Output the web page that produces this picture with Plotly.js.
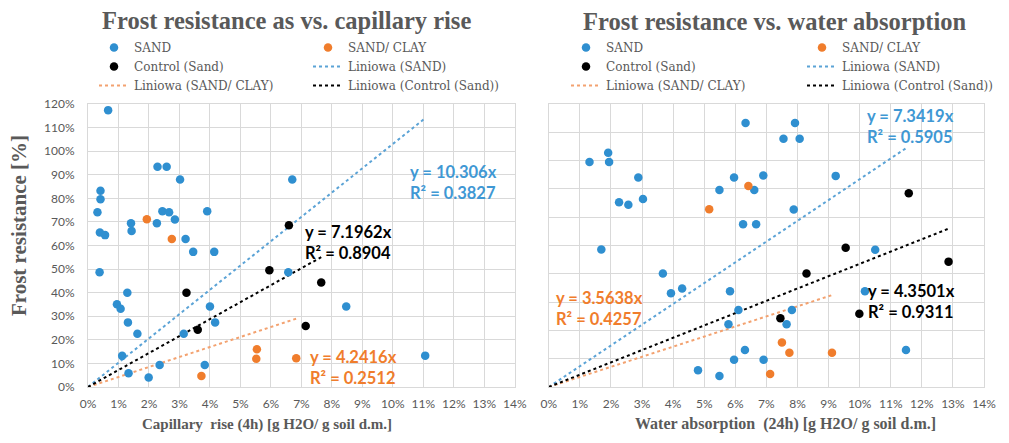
<!DOCTYPE html>
<html>
<head>
<meta charset="utf-8">
<script src="https://cdn.plot.ly/plotly-3.0.1.min.js"></script>
<style>html,body{margin:0;padding:0;background:#fff;}#chart{width:1009px;height:443px;}</style>
</head>
<body>
<div id="chart"></div>
<script>
// ---- Data (percent units) ----
var capSandX = [0.66,0.41,0.41,0.31,0.39,0.56,0.38,2.28,2.58,3.02,2.44,2.66,2.85,2.26,1.41,1.43,3.91,3.20,3.45,4.14,1.29,0.95,1.07,1.31,1.62,4.00,4.17,3.14,1.12,1.33,1.99,2.35,3.83,6.57,6.70,8.47,11.06];
var capSandY = [117.4,83.2,79.6,74.1,65.5,64.4,48.7,93.4,93.4,88.0,74.5,74.1,71.0,69.4,69.4,66.2,74.5,62.8,57.3,57.3,40.0,35.1,33.2,27.4,22.6,34.1,27.4,22.6,13.2,5.8,4.0,9.3,9.3,48.7,88.0,34.1,13.3];
var capClayX = [1.93,2.75,3.72,5.54,5.52,6.83];
var capClayY = [71.1,62.8,4.7,16.0,12.0,12.2];
var capCtrlX = [3.23,3.60,5.95,6.59,7.65,7.14];
var capCtrlY = [40.0,24.3,49.5,68.6,44.3,25.9];

var absSandX = [1.31,1.91,1.94,2.88,2.26,2.56,3.03,1.69,3.67,3.93,4.29,5.49,5.96,6.33,6.61,6.90,6.25,6.67,5.83,6.10,5.78,6.31,5.96,6.91,4.80,5.49,7.92,7.55,8.07,9.23,7.88,10.50,10.17,7.82,7.65,11.49];
var absSandY = [79.5,82.8,79.5,74.0,65.3,64.4,66.4,48.6,40.1,33.1,34.8,69.6,74.0,93.3,69.6,74.7,57.5,57.5,33.8,27.2,22.2,13.1,9.6,9.6,5.9,3.9,93.3,87.7,87.7,74.6,62.7,48.5,33.8,27.2,22.2,13.1];
var absClayX = [5.16,6.42,7.12,7.50,7.74,9.11];
var absClayY = [62.8,71.0,4.6,15.7,12.1,12.1];
var absCtrlX = [7.45,8.29,9.55,11.58,12.86,9.99];
var absCtrlY = [24.3,40.1,49.2,68.5,44.3,25.9];

// trendline slopes (through origin) and R²
var capSlopeSand = 10.306, capSlopeClay = 4.2416, capSlopeCtrl = 7.1962;
var absSlopeSand = 7.3419, absSlopeClay = 3.5638, absSlopeCtrl = 4.3501;
var capR2Sand = 0.3827, capR2Clay = 0.2512, capR2Ctrl = 0.8904;
var absR2Sand = 0.5905, absR2Clay = 0.4257, absR2Ctrl = 0.9311;

// tick values and labels
var xTickVals = [0,1,2,3,4,5,6,7,8,9,10,11,12,13,14];
var xTickText = ['0%','1%','2%','3%','4%','5%','6%','7%','8%','9%','10%','11%','12%','13%','14%'];
var yTickVals = [0,10,20,30,40,50,60,70,80,90,100,110,120];
var yTickText = ['0%','10%','20%','30%','40%','50%','60%','70%','80%','90%','100%','110%','120%'];

// ---- Styles ----
var BLUE = '#2f8fd0', ORANGE = '#f07d2c', BLACK = '#000000';
var BLUE_L = '#5ba3d6', ORANGE_L = '#f3a270';
var GRAY = '#595959';
var MS = 8.5;

function trend(xs, slope) {
  var m = Math.max.apply(null, xs);
  return {x: [0, m], y: [0, slope * m]};
}
function pts(xs, ys, name, color, xa, ya, leg) {
  return {type:'scatter', mode:'markers', x:xs, y:ys, name:name, xaxis:xa, yaxis:ya, legend:leg,
    marker:{color:color, size:MS}, hoverinfo:'x+y'};
}
function line(xs, slope, name, color, xa, ya, leg) {
  var t = trend(xs, slope);
  return {type:'scatter', mode:'lines', x:t.x, y:t.y, name:name, xaxis:xa, yaxis:ya, legend:leg,
    line:{color:color, width:2, dash:'dot'}, hoverinfo:'skip'};
}

var data = [
  line(capSandX, capSlopeSand, 'Liniowa (SAND)', BLUE_L, 'x', 'y', 'legend2'),
  line(capClayX, capSlopeClay, 'Liniowa (SAND/ CLAY)', ORANGE_L, 'x', 'y', 'legend'),
  line(capCtrlX, capSlopeCtrl, 'Liniowa (Control (Sand))', BLACK, 'x', 'y', 'legend2'),
  pts(capSandX, capSandY, 'SAND', BLUE, 'x', 'y', 'legend'),
  pts(capClayX, capClayY, 'SAND/ CLAY', ORANGE, 'x', 'y', 'legend2'),
  pts(capCtrlX, capCtrlY, 'Control (Sand)', BLACK, 'x', 'y', 'legend'),
  line(absSandX, absSlopeSand, 'Liniowa (SAND)', BLUE_L, 'x2', 'y2', 'legend4'),
  line(absClayX, absSlopeClay, 'Liniowa (SAND/ CLAY)', ORANGE_L, 'x2', 'y2', 'legend3'),
  line(absCtrlX, absSlopeCtrl, 'Liniowa (Control (Sand))', BLACK, 'x2', 'y2', 'legend4'),
  pts(absSandX, absSandY, 'SAND', BLUE, 'x2', 'y2', 'legend3'),
  pts(absClayX, absClayY, 'SAND/ CLAY', ORANGE, 'x2', 'y2', 'legend4'),
  pts(absCtrlX, absCtrlY, 'Control (Sand)', BLACK, 'x2', 'y2', 'legend3')
];

var rankMap = {'SAND':1,'Control (Sand)':2,'Liniowa (SAND/ CLAY)':3,'SAND/ CLAY':1,'Liniowa (SAND)':2,'Liniowa (Control (Sand))':3};
data.forEach(function(t){ t.legendrank = rankMap[t.name]; });

var ML = 88, MR = 24, MT = 104, MB = 56;
var W = 1009, H = 443, PW = W - ML - MR, PH = H - MT - MB;
function px(x){ return (x - ML) / PW; }
function py(y){ return (H - MB - y) / PH; }

var tickFont = {family:'Lato, "Open Sans", sans-serif', size:12, color:GRAY};
var legFont = {family:'"DejaVu Serif", "Liberation Serif", serif', size:12, color:GRAY};
function leg(x, y) {
  return {x:px(x), xanchor:'left', y:py(y), yanchor:'top', font:legFont, bgcolor:'rgba(0,0,0,0)',
    orientation:'v', traceorder:'normal', tracegroupgap:0, itemclick:false, itemdoubleclick:false};
}
function xax(domain, anchor) {
  return {domain:domain, anchor:anchor, range:[0,14], tickmode:'array', tickvals:xTickVals, ticktext:xTickText,
    showgrid:true, gridcolor:'#d9d9d9', gridwidth:1, zeroline:false, showline:true, mirror:true,
    linecolor:'#d9d9d9', linewidth:1, ticks:'', tickfont:tickFont, ticklabelstandoff:6, fixedrange:true};
}
function yax(range, anchor, labels) {
  return {domain:[0,1], anchor:anchor, range:range, tickmode:'array', tickvals:yTickVals, ticktext:yTickText,
    showticklabels:labels, showgrid:true, gridcolor:'#d9d9d9', gridwidth:1, zeroline:false,
    showline:true, mirror:true, linecolor:'#d9d9d9', linewidth:1, ticks:'', tickfont:tickFont,
    ticklabelstandoff:10, fixedrange:true};
}
var serif = '"Liberation Serif", "Times New Roman", serif';
var titleFont = {family:serif, size:24.5, color:GRAY, weight:'bold'};
var eqFont = function(c){ return {family:'Lato, "Open Sans", sans-serif', size:16.5, color:c, weight:'bold'}; };

function eq(slope, r2, color, xa, ya, x, y) {
  return {xref:xa, yref:ya, x:x, y:y, xanchor:'left', yanchor:'middle', align:'left', showarrow:false,
    text:'y = ' + slope + 'x<br>R² = ' + r2, font:eqFont(color)};
}

var layout = {
  width:W, height:H, margin:{l:ML, r:MR, t:MT, b:MB},
  paper_bgcolor:'#ffffff', plot_bgcolor:'#ffffff', showlegend:true, hovermode:'closest',
  xaxis: xax([0, px(515.3)], 'y'),
  yaxis: yax([0,120], 'x', true),
  xaxis2: xax([px(549.3), 1], 'y2'),
  yaxis2: yax([0,100], 'x2', false),
  legend: leg(94, 33),
  legend2: leg(308, 33),
  legend3: leg(566, 33),
  legend4: leg(802, 33),
  annotations: [
    {xref:'paper', yref:'paper', x:px(287), y:py(21), xanchor:'center', yanchor:'middle', showarrow:false,
      text:'Frost resistance as vs. capillary rise', font:titleFont},
    {xref:'paper', yref:'paper', x:px(775), y:py(22), xanchor:'center', yanchor:'middle', showarrow:false,
      text:'Frost resistance vs. water absorption', font:titleFont},
    {xref:'paper', yref:'paper', x:px(267), y:py(424), xanchor:'center', yanchor:'middle', showarrow:false,
      text:'Capillary  rise (4h) [g H2O/ g soil d.m.]', font:{family:serif, size:15, color:GRAY, weight:'bold'}},
    {xref:'paper', yref:'paper', x:px(786), y:py(424), xanchor:'center', yanchor:'middle', showarrow:false,
      text:'Water absorption  (24h) [g H2O/ g soil d.m.]', font:{family:serif, size:16, color:GRAY, weight:'bold'}},
    {xref:'paper', yref:'paper', x:px(19), y:py(226), xanchor:'center', yanchor:'middle', showarrow:false,
      textangle:-90, text:'Frost resistance [%]', font:{family:serif, size:21, color:GRAY, weight:'bold'}},
    eq(capSlopeSand, capR2Sand, '#3f98d4', 'x', 'y', 10.48, 86.6),
    eq(capSlopeCtrl, capR2Ctrl, BLACK, 'x', 'y', 7.04, 61.2),
    eq(capSlopeClay, capR2Clay, ORANGE, 'x', 'y', 7.2, 8.4),
    eq(absSlopeSand, absR2Sand, '#3f98d4', 'x2', 'y2', 10.18, 92.0),
    eq(absSlopeCtrl, absR2Ctrl, BLACK, 'x2', 'y2', 10.21, 30.1),
    eq(absSlopeClay, absR2Clay, ORANGE, 'x2', 'y2', 0.18, 27.8)
  ]
};

Plotly.newPlot('chart', data, layout, {displayModeBar:false, responsive:false});
</script>
</body>
</html>
